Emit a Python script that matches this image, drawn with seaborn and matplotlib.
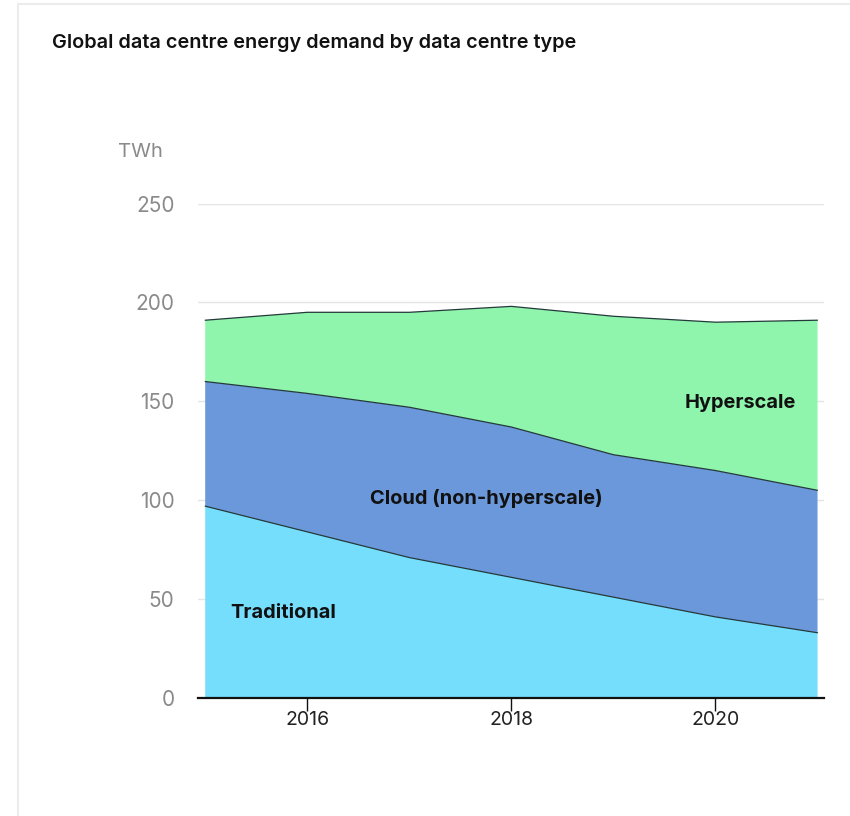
import matplotlib
matplotlib.use("Agg")
import matplotlib.pyplot as plt
import seaborn as sns
import pandas as pd
from matplotlib.patches import Rectangle

# Global data centre energy demand (TWh) by data centre type
years = [2015, 2016, 2017, 2018, 2019, 2020, 2021]
traditional = [97, 84, 71, 61, 51, 41, 33]
cloud = [63, 70, 76, 76, 72, 74, 72]
hyperscale = [31, 41, 48, 61, 70, 75, 86]

series_names = ["Traditional", "Cloud (non-hyperscale)", "Hyperscale"]
series_colors = ["#76DEFD", "#6A98DB", "#8FF4AC"]
x_ticks = [2016, 2018, 2020]
y_ticks = [0, 50, 100, 150, 200, 250]

df = pd.DataFrame({"year": years, "Traditional": traditional,
                   "Cloud (non-hyperscale)": cloud, "Hyperscale": hyperscale})

sns.set_theme(style="white")
plt.rcParams["font.family"] = ["Inter", "DejaVu Sans"]

fig = plt.figure(figsize=(8.5, 8.16), dpi=100)
ax = fig.add_axes([0.233, 0.1446, 0.736, 0.6060])

# light frame around the card
fig.patches.append(Rectangle((18 / 850, -0.01), 1.0, 1 - 4 / 816 + 0.01,
                             transform=fig.transFigure, fill=False,
                             edgecolor="#ececec", linewidth=1.5, zorder=0))

ax.stackplot(df["year"], [df[n] for n in series_names], colors=series_colors,
             edgecolor="none", zorder=2)

# boundary lines between the stacked layers
cum = df[series_names].cumsum(axis=1)
long = cum.reset_index().melt(id_vars="index", value_vars=series_names,
                              var_name="layer", value_name="top")
long["year"] = df["year"].values[long["index"]]
sns.lineplot(data=long, x="year", y="top", units="layer", estimator=None,
             color="#24393a", linewidth=0.9, ax=ax, zorder=3, legend=False)

ax.set_xlim(2014.93, 2021.06)
ax.set_ylim(0, 250)
ax.set_xticks(x_ticks)
ax.set_xticklabels([str(t) for t in x_ticks])
ax.set_yticks(y_ticks)
ax.set_yticklabels([str(t) for t in y_ticks])
ax.set_xlabel("")
ax.set_ylabel("")

ax.yaxis.grid(True, color="#e4e4e4", linewidth=1.0, zorder=0)
ax.xaxis.grid(False)
ax.set_axisbelow(True)

for s in ["top", "right", "left"]:
    ax.spines[s].set_visible(False)
ax.spines["bottom"].set_color("#111111")
ax.spines["bottom"].set_linewidth(1.6)
ax.spines["bottom"].set_zorder(4)

ax.tick_params(axis="y", length=0, pad=17, labelsize=15, labelcolor="#8a8a8a")
ax.tick_params(axis="x", direction="out", length=9, width=1.0, color="#111111",
               pad=0, labelsize=14, labelcolor="#222222", bottom=True)

fig.text(118 / 850, 1 - 152 / 816, "TWh", fontsize=14.5, color="#8a8a8a",
         ha="left", va="center")
fig.text(52 / 850, 1 - 43 / 816, "Global data centre energy demand by data centre type",
         fontsize=14.3, fontweight="semibold", color="#111111", ha="left", va="center")

label_pos = {"Traditional": (2015.76, 43),
             "Cloud (non-hyperscale)": (2017.75, 101),
             "Hyperscale": (2020.24, 149)}
for name in series_names:
    x, y = label_pos[name]
    ax.text(x, y, name, fontsize=14.4, fontweight="bold", color="#111111",
            ha="center", va="center", zorder=5)

fig.savefig("out.png", dpi=100)
